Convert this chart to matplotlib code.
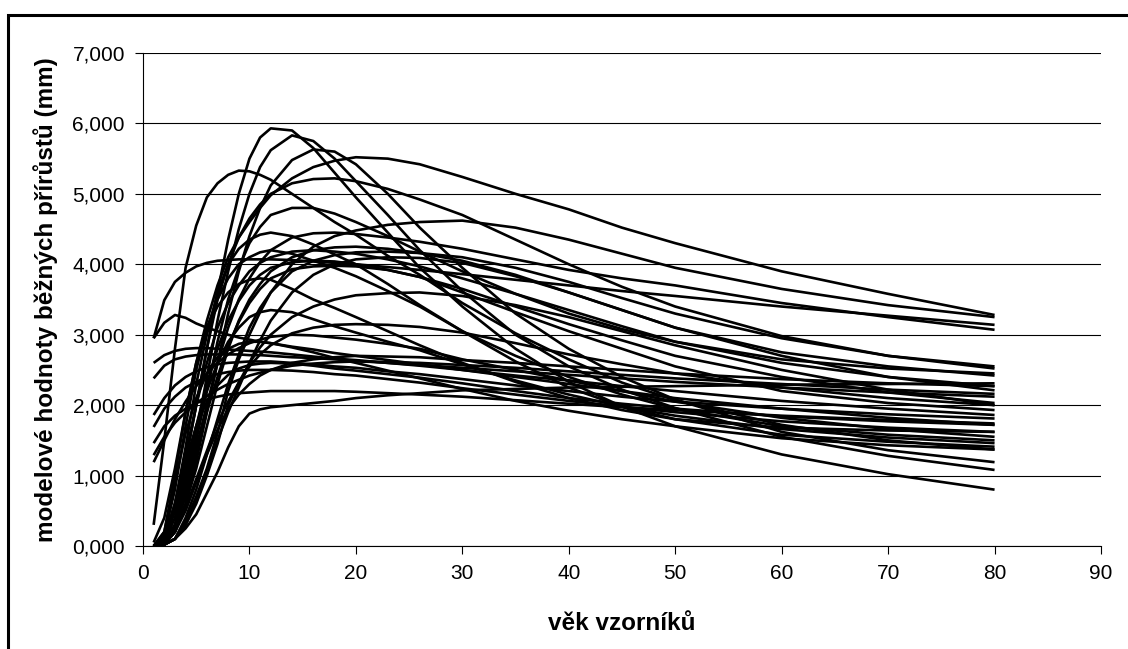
import matplotlib
matplotlib.use("Agg")
import matplotlib.pyplot as plt
from matplotlib.patches import Rectangle
from matplotlib.ticker import FuncFormatter

plt.rcParams['font.family'] = ['Liberation Sans', 'DejaVu Sans']

# vek vzorniku (roky)
age = [1, 2, 3, 4, 5, 6, 7, 8, 9, 10, 11, 12, 14, 16, 18, 20, 23, 26, 30, 35, 40, 45, 50, 60, 70, 80]

# modelove hodnoty beznych prirustu (mm), jedna rada na vzornik
curves = {
    'A1': [0.0, 0.1, 0.5, 1.2, 2.0, 2.8, 3.6, 4.35, 5.0, 5.5, 5.8, 5.93, 5.9, 5.65, 5.3, 4.95, 4.45, 3.95, 3.4, 2.8, 2.33, 1.98, 1.7, 1.3, 1.02, 0.80],
    'A2': [0.0, 0.05, 0.3, 0.9, 1.6, 2.4, 3.2, 3.9, 4.5, 5.0, 5.38, 5.62, 5.83, 5.75, 5.5, 5.18, 4.7, 4.2, 3.62, 3.0, 2.55, 2.22, 1.96, 1.55, 1.28, 1.08],
    'A3': [0.0, 0.02, 0.2, 0.6, 1.2, 1.9, 2.6, 3.3, 3.9, 4.4, 4.8, 5.12, 5.48, 5.63, 5.6, 5.42, 5.0, 4.52, 3.95, 3.3, 2.8, 2.4, 2.08, 1.62, 1.36, 1.19],
    'A4': [0.3, 1.5, 2.8, 3.95, 4.55, 4.95, 5.15, 5.27, 5.33, 5.32, 5.27, 5.2, 5.0, 4.8, 4.6, 4.42, 4.12, 3.85, 3.45, 3.02, 2.65, 2.32, 2.07, 1.72, 1.5, 1.37],
    'A5': [0.05, 0.4, 1.1, 1.9, 2.6, 3.2, 3.7, 4.1, 4.38, 4.6, 4.8, 4.98, 5.22, 5.38, 5.47, 5.52, 5.5, 5.42, 5.24, 5.0, 4.78, 4.52, 4.3, 3.9, 3.58, 3.28],
    'A6': [0.0, 0.1, 0.5, 1.2, 2.0, 2.8, 3.5, 4.0, 4.38, 4.65, 4.85, 5.0, 5.15, 5.21, 5.22, 5.18, 5.07, 4.92, 4.7, 4.35, 4.0, 3.68, 3.4, 2.98, 2.7, 2.52],
    'A7': [0.0, 0.05, 0.3, 0.8, 1.5, 2.2, 2.9, 3.5, 3.95, 4.3, 4.53, 4.7, 4.8, 4.8, 4.72, 4.6, 4.4, 4.18, 3.9, 3.58, 3.3, 3.08, 2.9, 2.65, 2.52, 2.45],
    'A8': [0.0, 0.02, 0.1, 0.35, 0.7, 1.1, 1.6, 2.2, 2.65, 3.0, 3.32, 3.6, 4.0, 4.25, 4.4, 4.48, 4.56, 4.6, 4.62, 4.52, 4.35, 4.15, 3.95, 3.65, 3.42, 3.25],
    'B1': [2.95, 3.49, 3.75, 3.88, 3.97, 4.02, 4.05, 4.06, 4.07, 4.07, 4.07, 4.07, 4.06, 4.04, 4.02, 4.0, 3.96, 3.92, 3.86, 3.78, 3.7, 3.62, 3.55, 3.4, 3.27, 3.14],
    'B2': [0.0, 0.05, 0.3, 0.8, 1.4, 2.0, 2.6, 3.1, 3.5, 3.8, 4.03, 4.2, 4.38, 4.44, 4.45, 4.43, 4.38, 4.32, 4.22, 4.07, 3.92, 3.8, 3.7, 3.45, 3.25, 3.07],
    'B3': [0.0, 0.03, 0.2, 0.6, 1.1, 1.7, 2.3, 2.8, 3.2, 3.5, 3.72, 3.9, 4.1, 4.2, 4.24, 4.25, 4.22, 4.16, 4.05, 3.85, 3.6, 3.35, 3.1, 2.75, 2.55, 2.42],
    'B4': [0.0, 0.02, 0.1, 0.4, 0.8, 1.3, 1.8, 2.3, 2.72, 3.1, 3.38, 3.6, 3.9, 4.05, 4.13, 4.17, 4.18, 4.16, 4.1, 3.95, 3.75, 3.52, 3.3, 2.95, 2.7, 2.55],
    'B5': [0.0, 0.1, 0.6, 1.3, 2.0, 2.6, 3.1, 3.45, 3.7, 3.9, 4.02, 4.1, 4.18, 4.2, 4.18, 4.15, 4.07, 3.97, 3.8, 3.58, 3.35, 3.12, 2.9, 2.6, 2.4, 2.27],
    'B6': [0.0, 0.02, 0.1, 0.3, 0.65, 1.05, 1.5, 1.9, 2.25, 2.6, 2.92, 3.2, 3.6, 3.85, 4.0, 4.07, 4.1, 4.09, 4.02, 3.83, 3.6, 3.35, 3.1, 2.7, 2.4, 2.21],
    'B7': [0.0, 0.05, 0.4, 1.0, 1.7, 2.3, 2.8, 3.2, 3.48, 3.7, 3.85, 3.95, 4.03, 4.05, 4.04, 4.0, 3.92, 3.82, 3.65, 3.4, 3.15, 2.92, 2.7, 2.4, 2.18, 2.03],
    'B8': [0.0, 0.03, 0.25, 0.7, 1.3, 1.9, 2.4, 2.85, 3.18, 3.45, 3.65, 3.8, 3.93, 3.97, 3.98, 3.97, 3.92, 3.82, 3.6, 3.32, 3.05, 2.8, 2.55, 2.2, 2.03, 1.93],
    'B9': [0.0, 0.15, 0.8, 1.7, 2.5, 3.1, 3.5, 3.8, 4.0, 4.1, 4.17, 4.2, 4.15, 4.05, 3.95, 3.83, 3.62, 3.4, 3.05, 2.7, 2.4, 2.15, 1.95, 1.7, 1.58, 1.50],
    'B10': [0.0, 0.1, 0.6, 1.4, 2.3, 3.0, 3.6, 4.0, 4.22, 4.35, 4.42, 4.45, 4.4, 4.28, 4.14, 4.0, 3.72, 3.42, 3.05, 2.62, 2.25, 1.98, 1.8, 1.58, 1.48, 1.41],
    'C1': [0.0, 0.02, 0.1, 0.3, 0.6, 1.0, 1.45, 2.0, 2.32, 2.6, 2.82, 3.0, 3.25, 3.4, 3.5, 3.56, 3.59, 3.6, 3.55, 3.42, 3.25, 3.05, 2.85, 2.5, 2.22, 2.0],
    'D1': [2.95, 3.17, 3.28, 3.24, 3.16, 3.1, 3.05, 3.0, 2.96, 2.93, 2.9, 2.88, 2.83, 2.79, 2.74, 2.7, 2.64, 2.58, 2.5, 2.4, 2.3, 2.2, 2.1, 1.95, 1.82, 1.72],
    'D2': [2.6, 2.71, 2.77, 2.8, 2.81, 2.81, 2.8, 2.79, 2.78, 2.77, 2.76, 2.75, 2.72, 2.69, 2.66, 2.64, 2.6, 2.56, 2.5, 2.42, 2.35, 2.27, 2.2, 2.06, 1.95, 1.86],
    'D3': [2.38, 2.56, 2.65, 2.69, 2.71, 2.72, 2.72, 2.72, 2.72, 2.71, 2.71, 2.7, 2.68, 2.67, 2.65, 2.63, 2.6, 2.57, 2.53, 2.48, 2.43, 2.38, 2.33, 2.25, 2.18, 2.12],
    'D4': [1.86, 2.1, 2.28, 2.4, 2.48, 2.54, 2.58, 2.6, 2.61, 2.62, 2.62, 2.62, 2.6, 2.58, 2.55, 2.53, 2.48, 2.44, 2.37, 2.28, 2.2, 2.12, 2.05, 1.95, 1.87, 1.81],
    'D5': [1.69, 1.95, 2.12, 2.25, 2.33, 2.4, 2.44, 2.47, 2.49, 2.5, 2.5, 2.5, 2.49, 2.47, 2.44, 2.42, 2.37, 2.32, 2.24, 2.15, 2.06, 1.98, 1.9, 1.77, 1.68, 1.62],
    'D6': [1.46, 1.7, 1.85, 1.95, 2.03, 2.08, 2.12, 2.15, 2.17, 2.18, 2.19, 2.2, 2.2, 2.2, 2.2, 2.19, 2.17, 2.15, 2.12, 2.07, 2.02, 1.97, 1.93, 1.85, 1.79, 1.74],
    'D7': [1.29, 1.55, 1.75, 1.9, 2.03, 2.13, 2.22, 2.3, 2.36, 2.42, 2.46, 2.5, 2.56, 2.59, 2.61, 2.62, 2.61, 2.6, 2.57, 2.53, 2.48, 2.43, 2.38, 2.3, 2.22, 2.16],
    'D8': [1.19, 1.5, 1.8, 2.05, 2.27, 2.45, 2.6, 2.72, 2.81, 2.88, 2.93, 2.97, 3.0, 2.99, 2.96, 2.93, 2.87, 2.8, 2.65, 2.5, 2.35, 2.2, 2.05, 1.82, 1.66, 1.55],
    'E1': [0.0, 0.02, 0.1, 0.25, 0.45, 0.75, 1.05, 1.4, 1.7, 1.88, 1.94, 1.97, 2.0, 2.03, 2.06, 2.1, 2.14, 2.17, 2.21, 2.23, 2.25, 2.26, 2.27, 2.29, 2.3, 2.31],
    'F1': [0.0, 0.08, 0.5, 1.1, 1.7, 2.2, 2.6, 2.9, 3.1, 3.25, 3.32, 3.35, 3.32, 3.22, 3.12, 3.03, 2.9, 2.78, 2.58, 2.35, 2.15, 1.98, 1.85, 1.66, 1.54, 1.46],
    'F2': [0.0, 0.03, 0.2, 0.55, 0.95, 1.35, 1.75, 2.05, 2.32, 2.55, 2.72, 2.85, 3.02, 3.1, 3.14, 3.15, 3.14, 3.11, 3.03, 2.88, 2.72, 2.58, 2.45, 2.25, 2.1, 2.0],
    'F3': [0.0, 0.2, 0.9, 1.6, 2.1, 2.45, 2.68, 2.8, 2.87, 2.9, 2.9, 2.88, 2.82, 2.75, 2.67, 2.6, 2.49, 2.38, 2.23, 2.06, 1.92, 1.8, 1.7, 1.53, 1.43, 1.37],
    'F4': [0.0, 0.1, 0.6, 1.2, 1.7, 2.05, 2.28, 2.43, 2.52, 2.57, 2.59, 2.6, 2.59, 2.56, 2.52, 2.49, 2.44, 2.39, 2.31, 2.2, 2.1, 2.02, 1.95, 1.84, 1.77, 1.72],
    'F5': [0.0, 0.03, 0.2, 0.5, 0.9, 1.3, 1.65, 1.95, 2.15, 2.3, 2.42, 2.5, 2.6, 2.65, 2.68, 2.7, 2.69, 2.68, 2.64, 2.6, 2.55, 2.5, 2.45, 2.37, 2.31, 2.27],
    'G1': [0.0, 0.2, 1.0, 1.9, 2.6, 3.1, 3.4, 3.6, 3.72, 3.78, 3.8, 3.78, 3.65, 3.5, 3.38, 3.25, 3.05, 2.85, 2.6, 2.33, 2.1, 1.93, 1.8, 1.68, 1.64, 1.62],
}

x_ticks = [0, 10, 20, 30, 40, 50, 60, 70, 80, 90]
y_ticks = [0, 1, 2, 3, 4, 5, 6, 7]

fig = plt.figure(figsize=(11.28, 6.49), dpi=100)
ax = fig.add_axes([143 / 1128, 1 - 546 / 649, (1101 - 143) / 1128, (546 - 53) / 649])

for name, vals in curves.items():
    ax.plot(age, vals, color='black', lw=1.9, solid_joinstyle='round',
            solid_capstyle='butt', zorder=3)

ax.set_xlim(0, 90)
ax.set_ylim(0, 7)
ax.set_xticks(x_ticks)
ax.set_yticks(y_ticks)
ax.yaxis.set_major_formatter(FuncFormatter(lambda v, p: f"{v:.3f}".replace('.', ',')))
ax.grid(axis='y', color='black', lw=0.8, zorder=1)
ax.set_axisbelow(True)

for s in ['top', 'right']:
    ax.spines[s].set_visible(False)
for s in ['left', 'bottom']:
    ax.spines[s].set_linewidth(0.8)
ax.tick_params(direction='out', length=6, width=0.8, labelsize=15, pad=7)

ax.set_xlabel('věk vzorníků', fontsize=17.5, fontweight='bold', labelpad=21)
ax.set_ylabel('modelové hodnoty běžných přírůstů (mm)', fontsize=17.5, fontweight='bold', labelpad=10)

# ramecek kolem celeho grafu
fig.add_artist(Rectangle((8 / 1128, -0.05), 1.1, 1 - 15 / 649 + 0.05,
                         transform=fig.transFigure, fill=False, lw=2.2, ec='black'))

fig.savefig('out.png', dpi=100, facecolor='white')
